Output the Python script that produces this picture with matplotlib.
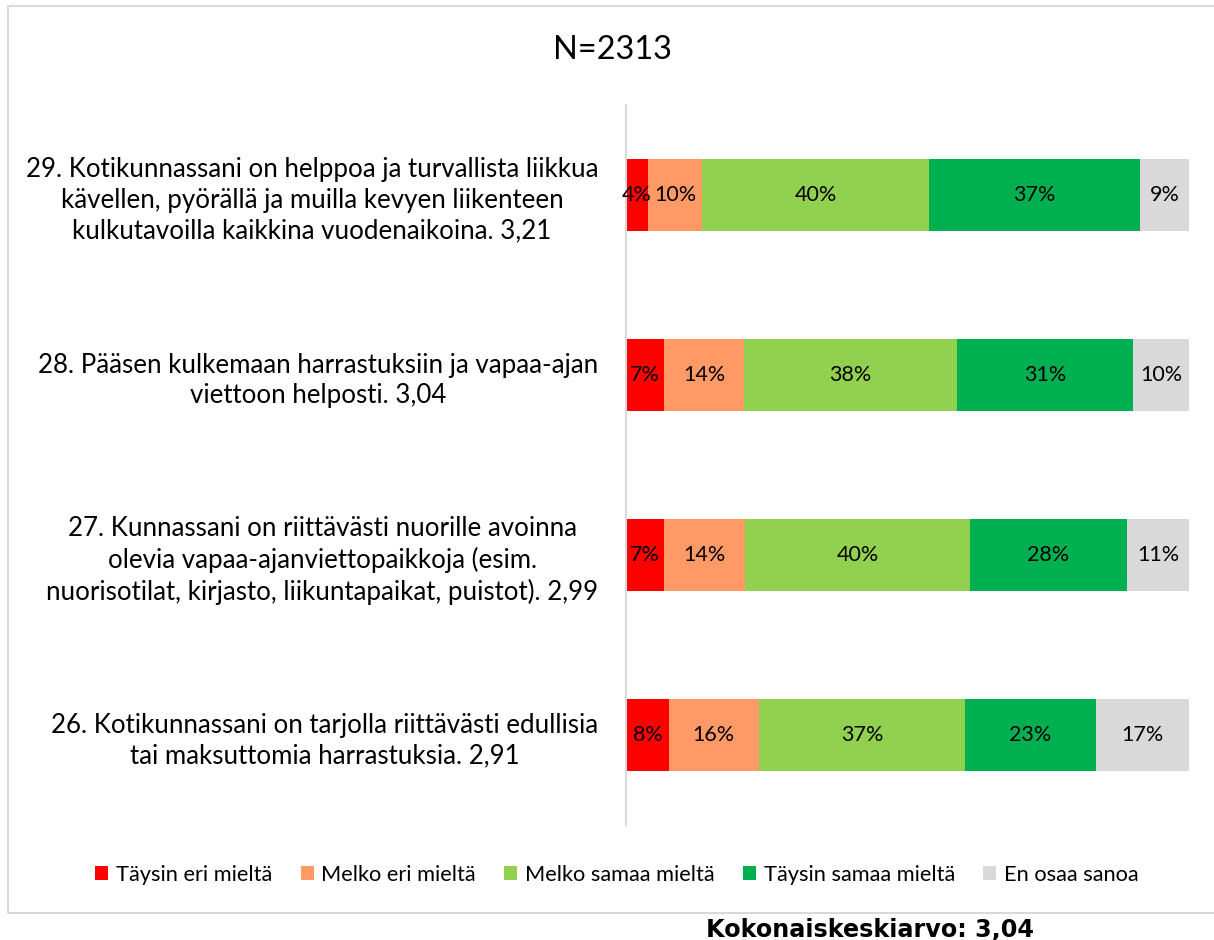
import numpy as np
import matplotlib
matplotlib.use("Agg")
import matplotlib.pyplot as plt
from matplotlib.patches import Rectangle, Patch

plt.rcParams['font.family'] = ['Lato', 'DejaVu Sans']

# kysymykset alhaalta ylös
kysymykset = [
    "26. Kotikunnassani on tarjolla riittävästi edullisia\ntai maksuttomia harrastuksia. 2,91",
    "27. Kunnassani on riittävästi nuorille avoinna\nolevia vapaa-ajanviettopaikkoja (esim.\nnuorisotilat, kirjasto, liikuntapaikat, puistot). 2,99",
    "28. Pääsen kulkemaan harrastuksiin ja vapaa-ajan\nviettoon helposti. 3,04",
    "29. Kotikunnassani on helppoa ja turvallista liikkua\nkävellen, pyörällä ja muilla kevyen liikenteen\nkulkutavoilla kaikkina vuodenaikoina. 3,21",
]
taysin_eri = [7.6, 6.8, 6.8, 3.9]
melko_eri = [16.0, 14.4, 14.1, 9.6]
melko_samaa = [36.7, 39.9, 37.9, 40.4]
taysin_samaa = [23.1, 27.9, 31.3, 37.4]
en_osaa = [16.6, 11.0, 9.9, 8.7]

sarjat = ["Täysin eri mieltä", "Melko eri mieltä", "Melko samaa mieltä",
          "Täysin samaa mieltä", "En osaa sanoa"]
arvot = [taysin_eri, melko_eri, melko_samaa, taysin_samaa, en_osaa]
varit = ["#FF0000", "#FF9966", "#92D050", "#00B050", "#D9D9D9"]

fig = plt.figure(figsize=(12.14, 9.4), dpi=100)

# harmaa kehys
fig.patches.append(Rectangle((8/1214, 27/940), 1.2, 1 - 6/940 - 27/940,
                             transform=fig.transFigure, fill=False,
                             edgecolor="#D9D9D9", linewidth=1.5))

ax = fig.add_axes([626/1214, 115/940, 563/1214, 720/940])
y = np.arange(len(kysymykset))
vasen = np.zeros(len(kysymykset))
for nimi, v, c in zip(sarjat, arvot, varit):
    v = np.array(v)
    ax.barh(y, v, left=vasen, height=0.4, color=c, label=nimi)
    for yi, l, w in zip(y, vasen, v):
        ax.text(l + w / 2, yi, f"{w:.0f}%", ha="center", va="center", fontsize=15.5)
    vasen = vasen + v

ax.set_xlim(0, 100)
ax.set_ylim(-0.5, 3.5)
ax.set_yticks(y)
ax.set_yticklabels(kysymykset, fontsize=18.6, linespacing=1.27)
for lbl in ax.get_yticklabels():
    lbl.set_multialignment("center")
ax.tick_params(axis="y", length=0, pad=20)
ax.set_xticks([])
for s in ["top", "right", "bottom"]:
    ax.spines[s].set_visible(False)
ax.spines["left"].set_color("#D9D9D9")
ax.spines["left"].set_linewidth(1.5)

fig.text(612/1214, 1 - 50/940, "N=2313", ha="center", va="center", fontsize=23.4)

kahvat = [Patch(facecolor=c, edgecolor="none") for c in varit]
fig.legend(kahvat, sarjat, loc="center", bbox_to_anchor=(617/1214, 1 - 875/940),
           ncol=5, frameon=False, fontsize=15.7, handlelength=0.6, handleheight=0.6,
           handletextpad=0.35, columnspacing=1.3)

fig.text(870/1214, 1 - 937/940, "Kokonaiskeskiarvo: 3,04", ha="center", va="baseline",
         fontsize=17.2, fontweight="bold", family="DejaVu Sans")

fig.savefig("out.png", dpi=100)
